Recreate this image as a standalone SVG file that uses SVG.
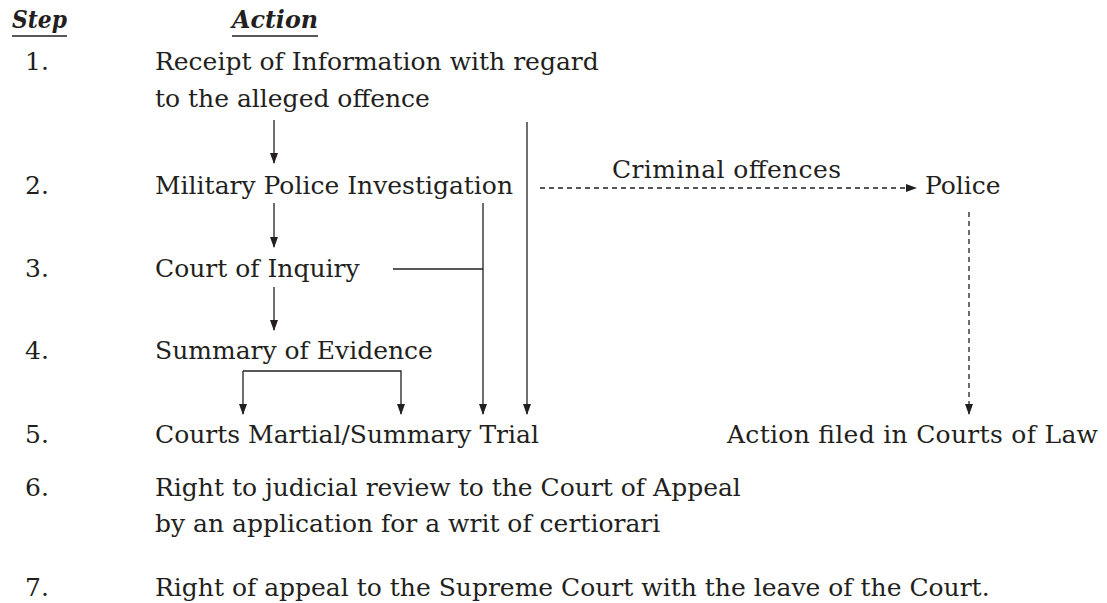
<svg xmlns="http://www.w3.org/2000/svg" width="1107" height="603" viewBox="0 0 1107 603">
<style>
text{font-family:"DejaVu Serif","Liberation Serif",serif;font-size:25px;fill:#231f20}
.h{font-weight:bold;font-style:italic}
.ln{stroke:#231f20;stroke-width:1.3;fill:none}
.dl{stroke:#231f20;stroke-width:1.3;fill:none;stroke-dasharray:5,4}
</style>
<defs>
<marker id="ah" markerWidth="11" markerHeight="8" refX="10" refY="4" orient="auto" markerUnits="userSpaceOnUse" viewBox="0 0 11 8">
<path d="M0,0 L11,4 L0,8 Z" fill="#231f20"/>
</marker>
</defs>
<rect width="1107" height="603" fill="#fff"/>
<g id="header">
<text class="h" x="12" y="28" textLength="55" lengthAdjust="spacingAndGlyphs">Step</text>
<text class="h" x="232" y="28" textLength="86" lengthAdjust="spacingAndGlyphs">Action</text>
<line class="ln" x1="12" y1="36" x2="67" y2="36"/>
<line class="ln" x1="232" y1="36" x2="318" y2="36"/>
</g>
<g id="step1"><text x="25" y="70">1.</text><text x="155" y="70">Receipt of Information with regard</text><text x="155" y="107">to the alleged offence</text></g>
<g id="step2"><text x="25" y="194">2.</text><text x="155" y="194">Military Police Investigation</text></g>
<g id="police"><text x="925" y="194">Police</text></g>
<g id="step3"><text x="25" y="277">3.</text><text x="155" y="277">Court of Inquiry</text></g>
<g id="step4"><text x="25" y="359">4.</text><text x="155" y="359">Summary of Evidence</text></g>
<g id="step5"><text x="25" y="443">5.</text><text x="155" y="443">Courts Martial/Summary Trial</text></g>
<g id="courts"><text x="727" y="443" textLength="371" lengthAdjust="spacing">Action filed in Courts of Law</text></g>
<g id="step6"><text x="25" y="496">6.</text><text x="155" y="496">Right to judicial review to the Court of Appeal</text><text x="155" y="532">by an application for a writ of certiorari</text></g>
<g id="step7"><text x="25" y="596">7.</text><text x="155" y="596">Right of appeal to the Supreme Court with the leave of the Court.</text></g>
<g id="connectors">
<line class="ln" x1="274" y1="120" x2="274" y2="163" marker-end="url(#ah)"/>
<line class="ln" x1="274" y1="203" x2="274" y2="247" marker-end="url(#ah)"/>
<line class="ln" x1="274" y1="287" x2="274" y2="330" marker-end="url(#ah)"/>
<line class="ln" x1="527" y1="122" x2="527" y2="414" marker-end="url(#ah)"/>
<line class="ln" x1="483" y1="203" x2="483" y2="414" marker-end="url(#ah)"/>
<line class="ln" x1="393" y1="269" x2="483" y2="269"/>
<polyline class="ln" points="243,371 401,371 401,414" marker-end="url(#ah)"/>
<line class="ln" x1="243" y1="371" x2="243" y2="414" marker-end="url(#ah)"/>
<line class="dl" x1="540" y1="188" x2="916" y2="188" marker-end="url(#ah)"/>
<text x="612" y="178" textLength="229" lengthAdjust="spacing">Criminal offences</text>
<line class="dl" x1="969" y1="212" x2="969" y2="414" marker-end="url(#ah)"/>
</g>
</svg>
